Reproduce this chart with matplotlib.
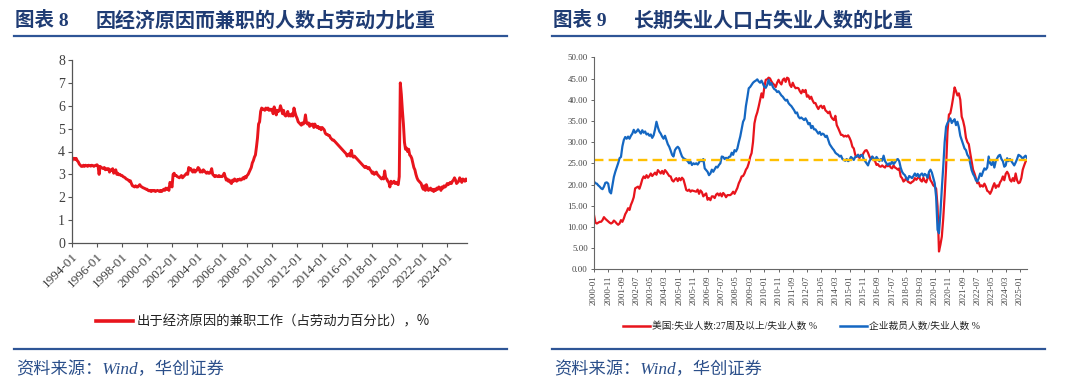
import numpy as np
import pandas as pd
import matplotlib
matplotlib.use("Agg")
import matplotlib.pyplot as plt
from matplotlib.lines import Line2D

plt.rcParams['font.family'] = ['Liberation Serif', 'Noto Sans CJK SC', 'DejaVu Sans']

# ---------------- data: chart 8 (monthly, 1994-01 .. 2025-08), % of labour force
pter = (
    [3.60, 3.70, 3.70, 3.65, 3.70, 3.60, 3.55, 3.45, 3.40, 3.35, 3.35, 3.40] +  # 1994
    [3.35, 3.40, 3.38, 3.35, 3.40, 3.38, 3.36, 3.40, 3.38, 3.35, 3.38, 3.40] +  # 1995
    [3.42, 3.36, 3.00, 3.35, 3.30, 3.28, 3.25, 3.30, 3.20, 3.25, 3.22, 3.25] +  # 1996
    [3.10, 3.20, 3.18, 3.25, 3.05, 3.10, 3.20, 3.00, 3.05, 2.98, 3.00, 2.95] +  # 1997
    [2.95, 2.90, 2.88, 2.85, 2.80, 2.78, 2.75, 2.70, 2.72, 2.60, 2.50, 2.48] +  # 1998
    [2.45, 2.50, 2.45, 2.45, 2.50, 2.55, 2.48, 2.45, 2.42, 2.40, 2.38, 2.35] +  # 1999
    [2.35, 2.30, 2.28, 2.30, 2.25, 2.30, 2.28, 2.30, 2.25, 2.28, 2.30, 2.28] +  # 2000
    [2.25, 2.30, 2.25, 2.30, 2.35, 2.30, 2.40, 2.35, 2.40, 2.30, 2.65, 2.55] +  # 2001
    [2.45, 3.00, 3.05, 2.95, 2.95, 2.90, 2.88, 2.85, 2.90, 2.95, 2.85, 2.90] +  # 2002
    [2.95, 3.00, 3.05, 3.00, 3.30, 3.20, 3.25, 3.15, 3.10, 3.20, 3.10, 3.15] +  # 2003
    [3.20, 3.30, 3.25, 3.10, 3.15, 3.10, 3.20, 3.15, 3.10, 3.05, 3.10, 3.05] +  # 2004
    [3.05, 3.10, 3.25, 3.00, 2.95, 2.90, 2.95, 2.92, 2.90, 2.95, 2.90, 2.92] +  # 2005
    [2.90, 2.95, 3.05, 2.90, 2.75, 2.80, 2.70, 2.75, 2.65, 2.60, 2.75, 2.70] +  # 2006
    [2.80, 2.75, 2.70, 2.78, 2.75, 2.80, 2.75, 2.78, 2.85, 2.80, 2.90, 2.85] +  # 2007
    [2.95, 3.00, 3.10, 3.20, 3.30, 3.50, 3.60, 3.75, 3.85, 4.20, 4.60, 5.20] +  # 2008
    [5.30, 5.75, 5.90, 5.85, 5.85, 5.80, 5.90, 5.85, 5.90, 5.80, 5.85, 5.80] +  # 2009
    [5.85, 5.65, 5.95, 5.80, 5.60, 5.80, 5.75, 5.80, 6.00, 5.85, 5.65, 5.80] +  # 2010
    [5.60, 5.55, 5.60, 5.75, 5.55, 5.60, 5.55, 5.65, 5.55, 5.90, 5.70, 5.55] +  # 2011
    [5.45, 5.30, 5.25, 5.20, 5.15, 5.25, 5.20, 5.30, 5.60, 5.25, 5.20, 5.25] +  # 2012
    [5.10, 5.20, 5.15, 5.20, 5.05, 5.20, 5.10, 5.05, 5.10, 5.00, 5.05, 4.95] +  # 2013
    [5.05, 5.00, 4.95, 4.80, 4.75, 4.75, 4.70, 4.70, 4.60, 4.55, 4.50, 4.50] +  # 2014
    [4.45, 4.40, 4.35, 4.30, 4.25, 4.20, 4.15, 4.10, 4.05, 4.00, 3.95, 3.90] +  # 2015
    [3.80, 3.85, 3.90, 3.80, 4.05, 3.80, 3.75, 3.80, 3.75, 3.70, 3.65, 3.60] +  # 2016
    [3.55, 3.50, 3.45, 3.40, 3.35, 3.30, 3.35, 3.30, 3.25, 3.30, 3.20, 3.15] +  # 2017
    [3.05, 3.10, 3.00, 3.05, 3.10, 3.00, 2.95, 2.90, 2.85, 2.80, 2.85, 2.80] +  # 2018
    [3.15, 2.85, 2.80, 2.70, 2.65, 2.45, 2.70, 2.60, 2.65, 2.70, 2.60, 2.65] +  # 2019
    [2.60, 2.55, 2.90, 7.00, 6.50, 5.80, 5.20, 4.40, 4.10, 4.15, 4.00, 4.10] +  # 2020
    [3.85, 3.80, 3.70, 3.50, 3.30, 3.20, 3.00, 2.85, 2.75, 2.70, 2.65, 2.60] +  # 2021
    [2.45, 2.35, 2.50, 2.30, 2.55, 2.40, 2.30, 2.35, 2.40, 2.30, 2.35, 2.25] +  # 2022
    [2.35, 2.30, 2.40, 2.35, 2.45, 2.40, 2.30, 2.45, 2.40, 2.50, 2.45, 2.50] +  # 2023
    [2.60, 2.55, 2.60, 2.65, 2.60, 2.70, 2.75, 2.85, 2.75, 2.60, 2.65, 2.70] +  # 2024
    [2.85, 2.75, 2.65, 2.80, 2.75, 2.70, 2.80, 2.75]                            # 2025
)

# ---------------- data: chart 9 (monthly, 2000-01 .. 2025-06), % of unemployed
long_term = (
    [12.8, 11.0, 10.8, 11.0, 11.2, 11.2, 11.6, 12.3, 11.9, 11.6, 11.3, 11.0] +  # 2000
    [10.8, 11.0, 11.5, 11.2, 10.8, 10.5, 10.8, 11.6, 11.2, 12.0, 13.0, 13.6] +  # 2001
    [14.4, 14.0, 15.2, 16.0, 17.0, 19.1, 19.3, 19.5, 19.0, 20.0, 21.2, 21.9] +  # 2002
    [21.5, 22.2, 21.6, 22.0, 22.6, 22.0, 22.4, 22.8, 22.3, 23.4, 23.0, 22.6] +  # 2003
    [23.2, 22.5, 23.4, 23.0, 22.5, 22.0, 21.9, 21.0, 20.7, 21.2, 21.5, 20.8] +  # 2004
    [21.5, 21.0, 21.6, 21.2, 20.0, 18.7, 18.5, 18.8, 18.3, 18.6, 18.5, 18.4] +  # 2005
    [18.3, 18.8, 17.8, 18.6, 18.2, 17.2, 17.6, 17.9, 16.4, 16.8, 16.3, 17.2] +  # 2006
    [17.2, 16.8, 17.6, 17.9, 17.4, 17.9, 17.2, 18.0, 17.6, 17.0, 17.5, 17.5] +  # 2007
    [17.5, 17.8, 18.3, 17.8, 18.5, 19.2, 20.3, 21.0, 21.9, 22.0, 22.6, 23.5] +  # 2008
    [24.0, 25.0, 26.5, 27.4, 30.0, 34.4, 36.0, 37.0, 38.4, 40.0, 41.5, 40.5] +  # 2009
    [43.0, 44.7, 44.8, 45.2, 45.0, 44.3, 43.8, 43.5, 43.0, 44.0, 44.7, 44.0] +  # 2010
    [43.6, 44.7, 45.0, 44.2, 45.2, 45.0, 43.5, 43.0, 44.0, 43.2, 42.7, 42.8] +  # 2011
    [42.7, 42.0, 41.5, 42.3, 41.8, 42.3, 40.7, 41.0, 40.2, 40.7, 39.8, 39.2] +  # 2012
    [39.2, 38.4, 37.8, 38.4, 38.6, 38.0, 38.5, 37.5, 37.2, 36.8, 37.2, 36.0] +  # 2013
    [35.5, 35.2, 36.2, 34.0, 33.3, 32.5, 31.7, 31.7, 31.3, 31.5, 31.3, 31.6] +  # 2014
    [31.0, 30.2, 28.9, 28.5, 27.0, 26.5, 27.0, 26.2, 27.0, 26.8, 27.5, 28.0] +  # 2015
    [28.1, 27.5, 26.6, 26.0, 26.5, 25.8, 25.5, 24.6, 24.8, 24.3, 24.2, 24.5] +  # 2016
    [24.2, 24.0, 24.6, 24.3, 24.6, 24.0, 23.8, 24.5, 24.0, 23.8, 23.5, 23.8] +  # 2017
    [21.9, 21.5, 20.7, 21.0, 21.6, 20.7, 20.5, 20.3, 20.6, 20.8, 21.5, 21.1] +  # 2018
    [21.5, 21.9, 21.0, 20.7, 21.6, 20.8, 20.5, 21.5, 22.4, 21.0, 20.5, 19.8] +  # 2019
    [19.5, 19.0, 14.8, 4.2, 5.8, 7.7, 12.0, 17.5, 24.0, 32.5, 36.5, 36.8] +     # 2020
    [38.5, 40.5, 42.9, 42.0, 41.0, 41.5, 40.0, 36.0, 35.0, 33.5, 31.0, 30.0] +  # 2021
    [29.5, 27.4, 25.5, 23.5, 22.6, 21.5, 20.3, 20.5, 19.5, 19.8, 19.5, 20.2] +  # 2022
    [19.5, 18.5, 18.3, 17.8, 18.5, 19.5, 20.3, 19.2, 19.8, 19.5, 20.5, 21.0] +  # 2023
    [21.9, 21.0, 22.5, 23.0, 22.4, 21.1, 20.7, 21.5, 20.8, 22.6, 21.0, 20.3] +  # 2024
    [20.5, 21.5, 23.5, 24.5, 25.4, 25.8]                                        # 2025
)
job_losers = (
    [20.7, 20.3, 20.2, 19.8, 19.5, 19.1, 18.9, 19.5, 20.4, 20.5, 20.2, 18.3] +  # 2000
    [17.9, 19.8, 21.8, 23.0, 24.0, 25.0, 26.2, 26.5, 29.0, 30.5, 31.2, 30.8] +  # 2001
    [31.3, 30.8, 31.5, 32.0, 32.9, 32.2, 32.5, 33.0, 32.5, 32.0, 32.8, 32.2] +  # 2002
    [32.5, 31.8, 32.0, 31.5, 31.8, 31.0, 31.6, 33.0, 34.8, 33.5, 32.5, 32.0] +  # 2003
    [31.3, 30.8, 31.5, 30.5, 29.5, 28.9, 28.0, 27.0, 26.6, 28.1, 28.6, 28.9] +  # 2004
    [28.5, 27.5, 26.6, 26.2, 26.0, 25.8, 25.5, 25.0, 25.4, 24.6, 25.0, 24.8] +  # 2005
    [25.0, 24.7, 25.2, 25.8, 25.5, 26.0, 23.8, 23.4, 23.0, 22.2, 22.6, 23.5] +  # 2006
    [23.0, 23.6, 24.2, 24.0, 24.6, 25.0, 26.6, 26.5, 26.0, 26.3, 26.0, 26.5] +  # 2007
    [26.6, 27.5, 27.0, 28.1, 27.8, 28.5, 30.0, 31.3, 33.0, 34.8, 35.5, 38.5] +  # 2008
    [40.5, 42.7, 43.0, 43.5, 44.0, 44.3, 44.5, 44.8, 44.3, 44.0, 44.5, 43.8] +  # 2009
    [43.0, 42.8, 43.5, 44.7, 43.5, 43.9, 43.0, 42.5, 42.3, 41.8, 42.0, 41.5] +  # 2010
    [41.0, 40.7, 40.2, 39.8, 40.0, 39.2, 38.8, 38.5, 38.0, 37.5, 36.8, 37.0] +  # 2011
    [36.0, 35.6, 35.8, 35.5, 35.2, 35.6, 35.0, 34.2, 34.5, 33.3, 33.8, 33.0] +  # 2012
    [33.0, 32.5, 32.0, 32.4, 31.7, 32.0, 31.8, 31.2, 31.5, 30.5, 29.5, 29.0] +  # 2013
    [28.5, 28.1, 27.5, 27.2, 27.0, 26.6, 26.8, 26.0, 25.8, 25.6, 26.0, 25.5] +  # 2014
    [25.8, 26.5, 26.2, 25.8, 26.5, 26.6, 27.0, 26.5, 26.8, 27.0, 26.0, 25.5] +  # 2015
    [25.0, 24.5, 25.5, 26.0, 26.6, 26.2, 25.8, 26.5, 26.0, 25.5, 26.0, 25.6] +  # 2016
    [26.8, 25.5, 25.0, 24.6, 25.0, 24.8, 25.5, 24.8, 25.2, 25.8, 26.0, 25.5] +  # 2017
    [24.0, 23.0, 22.5, 22.2, 21.5, 21.1, 22.0, 21.8, 21.5, 22.0, 22.6, 22.0] +  # 2018
    [22.5, 21.8, 22.3, 22.6, 22.0, 22.5, 22.2, 21.6, 23.0, 23.5, 22.8, 21.5] +  # 2019
    [20.3, 17.0, 9.3, 8.5, 13.2, 19.0, 24.2, 30.0, 33.6, 34.5, 35.0, 35.6] +    # 2020
    [34.5, 35.0, 35.4, 34.0, 34.8, 33.5, 31.5, 30.5, 29.5, 28.5, 28.1, 27.0] +  # 2021
    [26.5, 25.0, 23.4, 22.5, 21.9, 21.0, 20.7, 21.5, 22.6, 22.0, 23.0, 23.8] +  # 2022
    [23.5, 24.0, 26.6, 25.0, 24.6, 25.5, 24.0, 25.5, 26.2, 26.8, 27.0, 26.0] +  # 2023
    [25.5, 24.2, 24.5, 26.2, 25.5, 26.0, 25.5, 25.0, 24.5, 25.2, 26.0, 27.0] +  # 2024
    [26.8, 26.5, 26.0, 26.5, 26.8, 26.2]                                        # 2025
)
ref_level = 25.8

months8 = pd.date_range('1994-01', periods=len(pter), freq='MS').strftime('%Y-%m')
months9 = pd.date_range('2000-01', periods=len(long_term), freq='MS').strftime('%Y-%m')

tag8, title8 = '图表 8', '因经济原因而兼职的人数占劳动力比重'
tag9, title9 = '图表 9', '长期失业人口占失业人数的比重'
legend8 = '出于经济原因的兼职工作（占劳动力百分比），%'
legend9 = ['美国:失业人数:27周及以上/失业人数 %', '企业裁员人数/失业人数 %']
source = '资料来源：Wind，华创证券'

navy = '#1f3c74'
rule = '#2e5596'
red = '#e8141c'
blue = '#1467c2'
gold = '#ffc000'
tick_c = '#404040'

W, H = 1080, 387
fig = plt.figure(figsize=(W / 100, H / 100), dpi=100)

def fx(px):
    return px / W

def fy(py):
    return 1 - py / H

# headers, rules and sources for both panels
for x0, x1, xt, tag, title in [(14, 507, 96, tag8, title8), (552, 1045, 634, tag9, title9)]:
    fig.text(fx(x0 + 1), fy(20), tag, fontsize=14, fontweight='bold', color=navy,
             family=['Liberation Serif', 'Noto Sans CJK SC'], va='center')
    fig.text(fx(xt), fy(20), title, fontsize=14.4, fontweight='bold', color=navy,
             family=['Noto Sans CJK SC'], va='center')
    fig.add_artist(Line2D([fx(x0), fx(x1)], [fy(36), fy(36)], color=rule, lw=1.6))
    fig.add_artist(Line2D([fx(x0), fx(x1)], [fy(348.5), fy(348.5)], color=rule, lw=1.6))
    fig.text(fx(x0 + 2), fy(370), source, fontsize=12.4, style='italic', color='#2b4f8a',
             family=['Liberation Serif', 'Noto Sans CJK SC'], va='center')

# ---------------- chart 8
ax1 = fig.add_axes([fx(72), fy(243), fx(467 - 72), (243 - 60) / H])
x8 = np.arange(len(pter))
ax1.plot(x8, pter, color=red, lw=2.1, solid_joinstyle='round')
ax1.set_xlim(0, len(pter) - 1)
ax1.set_ylim(0, 8)
ax1.set_yticks(range(0, 9))
pos8 = [i for i, m in enumerate(months8) if m.endswith('-01') and int(m[:4]) % 2 == 0]
ax1.set_xticks(pos8)
ax1.set_xticklabels([months8[i] for i in pos8], rotation=45, ha='right',
                    rotation_mode='anchor', fontsize=9.5, color=tick_c)
for lab in ax1.get_yticklabels():
    lab.set_fontsize(10)
    lab.set_color(tick_c)
for s in ['top', 'right']:
    ax1.spines[s].set_visible(False)
for s in ['left', 'bottom']:
    ax1.spines[s].set_color('#555555')
    ax1.spines[s].set_linewidth(0.9)
ax1.tick_params(axis='both', direction='out', length=3, width=0.8, color='#555555', pad=2)

fig.add_artist(Line2D([fx(96), fx(133)], [fy(321), fy(321)], color=red, lw=2.6))
fig.text(fx(137), fy(321), legend8, fontsize=9.6, color='#222222',
         family=['Noto Sans CJK SC', 'DejaVu Sans'], va='center')

# ---------------- chart 9
ax2 = fig.add_axes([fx(594), fy(269.3), fx(1027 - 594), (269.3 - 57.3) / H])
x9 = np.arange(len(long_term))
ax2.plot(x9, long_term, color=red, lw=1.6)
ax2.plot(x9, job_losers, color=blue, lw=1.6)
ax2.axhline(ref_level, color=gold, lw=1.7, ls=(0, (4, 2.2)))
ax2.set_xlim(0, len(long_term) - 1)
ax2.set_ylim(0, 50)
ax2.set_yticks(np.arange(0, 51, 5))
ax2.set_yticklabels(['%.2f' % v for v in np.arange(0, 51, 5)], fontsize=6.3, color=tick_c)
pos9 = list(range(0, len(long_term), 10))
ax2.set_xticks(pos9)
ax2.set_xticklabels([months9[i] for i in pos9], rotation=90, fontsize=6.3, color=tick_c)
for s in ['top', 'right']:
    ax2.spines[s].set_visible(False)
for s in ['left', 'bottom']:
    ax2.spines[s].set_color('#666666')
    ax2.spines[s].set_linewidth(0.8)
ax2.tick_params(axis='both', direction='out', length=2.5, width=0.7, color='#666666', pad=2)

fig.add_artist(Line2D([fx(623), fx(650)], [fy(326), fy(326)], color=red, lw=1.8))
fig.text(fx(652), fy(326), legend9[0], fontsize=7.0, color='#222222',
         family=['Liberation Serif', 'Noto Sans CJK SC'], va='center')
fig.add_artist(Line2D([fx(840), fx(867)], [fy(326), fy(326)], color=blue, lw=1.8))
fig.text(fx(869), fy(326), legend9[1], fontsize=7.0, color='#222222',
         family=['Liberation Serif', 'Noto Sans CJK SC'], va='center')

fig.savefig('out.png', dpi=100)
